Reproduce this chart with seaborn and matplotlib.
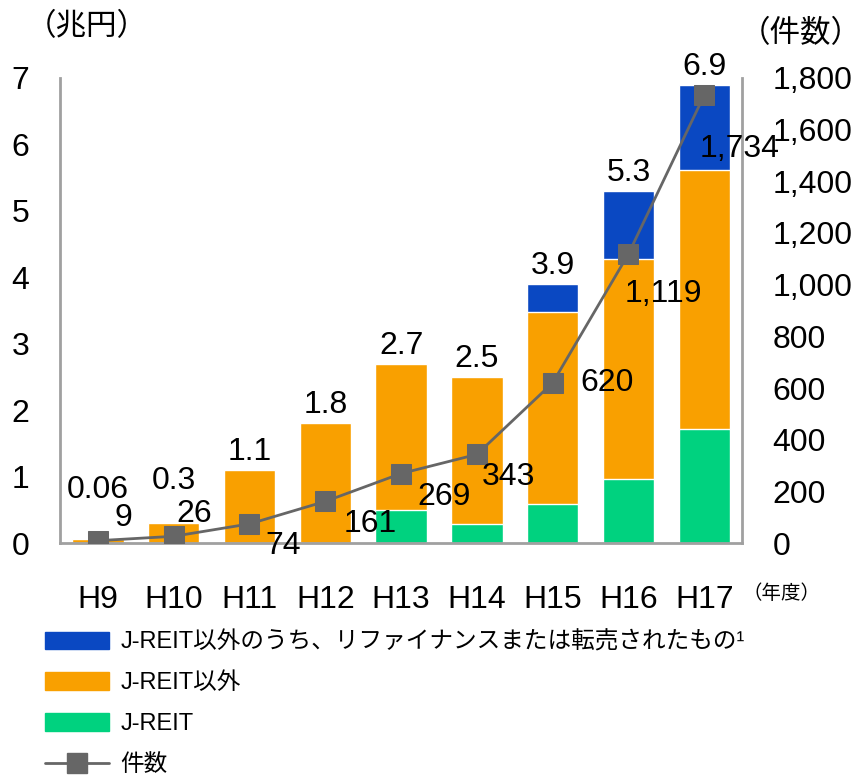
import numpy as np
import matplotlib
matplotlib.use('Agg')
import matplotlib.pyplot as plt
import seaborn as sns
from matplotlib.patches import Patch
from matplotlib.lines import Line2D

years = ['H9', 'H10', 'H11', 'H12', 'H13', 'H14', 'H15', 'H16', 'H17']
jreit = [0, 0, 0, 0, 0.5, 0.28, 0.58, 0.96, 1.72]
other = [0.06, 0.3, 1.1, 1.8, 2.2, 2.22, 2.89, 3.31, 3.9]
refi = [0, 0, 0, 0, 0, 0, 0.43, 1.03, 1.28]
total_labels = ['0.06', '0.3', '1.1', '1.8', '2.7', '2.5', '3.9', '5.3', '6.9']
counts = [9, 26, 74, 161, 269, 343, 620, 1119, 1734]
count_labels = ['9', '26', '74', '161', '269', '343', '620', '1,119', '1,734']

# label offsets in pixels (picked by eye)
total_dy = [34, 27, 3, 3, 3, 3, 3, 3, 3]
count_dx = [25, 21, 34, 45, 43, 32, 54, 35, 35]
count_dy = [23, 22, -22, -23, -23, -23, 0, -40, -54]

c_blue = '#0a48c2'
c_orange = '#f9a000'
c_green = '#00d27f'
c_line = '#666666'

sns.set_style('white')
plt.rcParams['font.family'] = ['Liberation Sans', 'Noto Sans CJK JP']
plt.rcParams['text.color'] = 'black'
plt.rcParams['xtick.color'] = 'black'
plt.rcParams['ytick.color'] = 'black'

lower = np.array(jreit)
mid = lower + np.array(other)
top = mid + np.array(refi)

fig = plt.figure(figsize=(8.63, 7.83), dpi=100)
ax = fig.add_axes([0.0695, 0.3065, 0.7905, 0.5939])

sns.barplot(x=years, y=top, color=c_blue, width=0.68, saturation=1, ax=ax)
sns.barplot(x=years, y=mid, color=c_orange, width=0.68, saturation=1, ax=ax)
sns.barplot(x=years, y=lower, color=c_green, width=0.68, saturation=1, ax=ax)
ax.set_ylim(0, 7)
ax.set_yticks(range(8))
ax.set_xlim(-0.5, 8.5)

for i, t in enumerate(top):
    ax.annotate(total_labels[i], (i, t), xytext=(0, total_dy[i]), textcoords='offset pixels',
                ha='center', va='bottom', fontsize=23)

ax2 = ax.twinx()
xs = np.arange(len(years))
sns.lineplot(x=xs, y=counts, ax=ax2, color=c_line, lw=2, marker='s', markersize=14,
             markeredgecolor=c_line, markerfacecolor=c_line)
ax2.set_ylim(0, 1800)
ax2.set_yticks(range(0, 1801, 200))
ax2.set_yticklabels([f'{v:,}' for v in range(0, 1801, 200)])
ax.set_xlim(-0.5, 8.5)

for i, c in enumerate(counts):
    ax2.annotate(count_labels[i], (i, c), xytext=(count_dx[i], count_dy[i]), textcoords='offset pixels',
                 ha='center', va='center', fontsize=23)

for a in (ax, ax2):
    for s in a.spines.values():
        s.set_color('#a0a0a0')
        s.set_linewidth(2)
    a.spines['top'].set_visible(False)
    a.set_xlabel('')
    a.set_ylabel('')
ax.spines['right'].set_visible(False)
ax2.spines['left'].set_visible(False)
ax2.spines['bottom'].set_visible(False)

ax.tick_params(axis='y', length=0, pad=22, labelsize=23)
ax.tick_params(axis='x', length=0, pad=30, labelsize=23)
ax2.tick_params(axis='y', length=0, pad=22, labelsize=23)

fig.text(0.03, 0.965, '（兆円）', fontsize=22, ha='left', va='center')
fig.text(0.998, 0.957, '（件数）', fontsize=22, ha='right', va='center')
fig.text(0.86, 0.242, '（年度）', fontsize=14, ha='left', va='center')

handles = [Patch(color=c_blue), Patch(color=c_orange), Patch(color=c_green),
           Line2D([], [], color=c_line, lw=2, marker='s', markersize=14)]
labels = ['J-REIT以外のうち、リファイナンスまたは転売されたもの¹', 'J-REIT以外', 'J-REIT', '件数']
fig.legend(handles, labels, loc='upper left', bbox_to_anchor=(0.052, 0.194), frameon=False,
           fontsize=17, handlelength=2.7, handleheight=0.75, labelspacing=0.8,
           handletextpad=0.5, borderaxespad=0, borderpad=0)

fig.savefig('out.png', dpi=100)
